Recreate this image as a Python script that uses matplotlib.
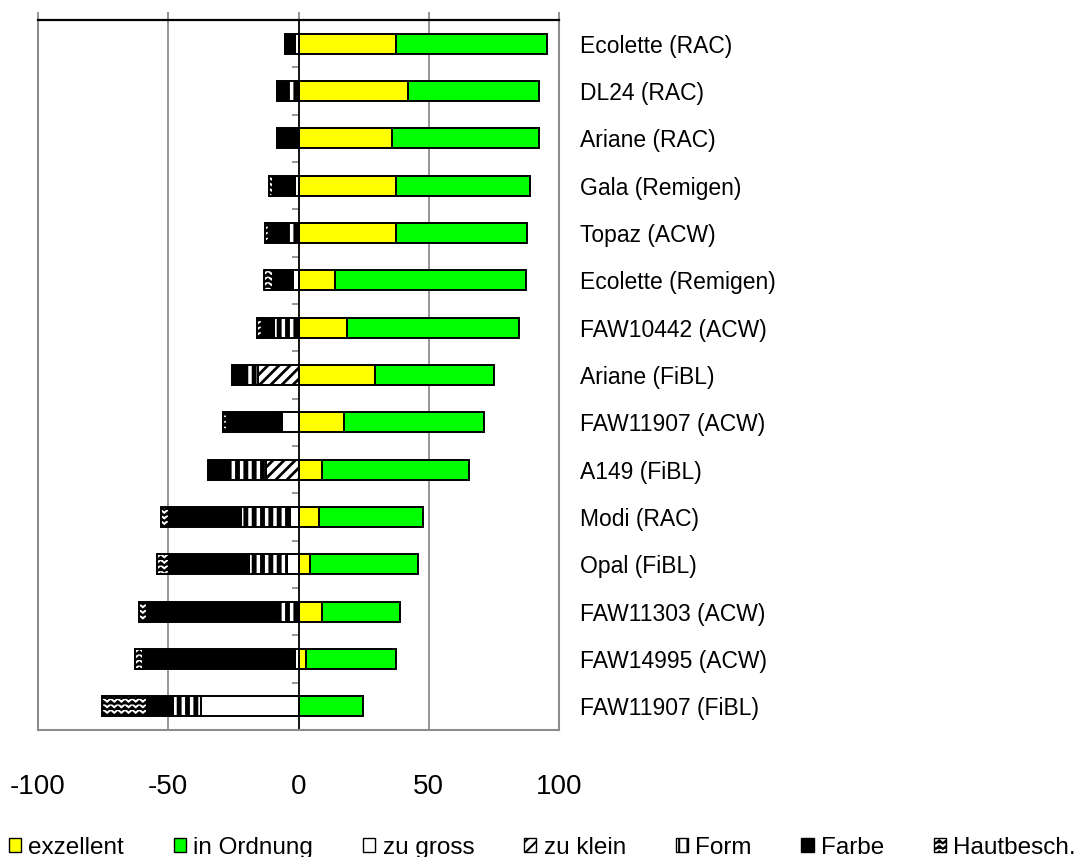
import matplotlib
matplotlib.use('Agg')
import matplotlib.pyplot as plt
import matplotlib.hatch as mhatch
from matplotlib.patches import Patch
from matplotlib.path import Path
import numpy as np

plt.rcParams['font.family'] = ['Liberation Sans', 'DejaVu Sans']
plt.rcParams['axes.unicode_minus'] = False
plt.rcParams['hatch.linewidth'] = 2.0

# Sorten, von oben nach unten
sorten = ['Ecolette (RAC)', 'DL24 (RAC)', 'Ariane (RAC)', 'Gala (Remigen)', 'Topaz (ACW)',
          'Ecolette (Remigen)', 'FAW10442 (ACW)', 'Ariane (FiBL)', 'FAW11907 (ACW)', 'A149 (FiBL)',
          'Modi (RAC)', 'Opal (FiBL)', 'FAW11303 (ACW)', 'FAW14995 (ACW)', 'FAW11907 (FiBL)']

# positive Anteile (%)
exzellent = [37.4, 42.2, 35.8, 37.4, 37.4, 14.1, 18.6, 29.5, 17.3, 9.2, 7.8, 4.5, 9.2, 2.9, 0]
in_ordnung = [58.0, 50.1, 56.5, 51.6, 50.2, 73.3, 65.9, 45.5, 54.1, 56.4, 39.9, 41.5, 29.8, 34.7, 24.9]

# negative Anteile (%), von 0 nach links gestapelt
zu_gross = [1.5, 0, 0, 1.5, 0, 2.3, 0, 0, 6.4, 0, 3.3, 4.6, 0, 1.3, 37.3]
zu_klein = [0, 0, 0, 0, 0, 0, 0, 15.6, 0, 12.6, 0, 0, 0, 0, 0]
form = [0, 4.5, 0, 0, 4.5, 0, 9.4, 4.7, 1.4, 13.7, 18.9, 14.4, 7.7, 0, 10.8]
farbe = [3.6, 3.7, 8.2, 8.2, 6.8, 7.4, 4.7, 5.1, 19.8, 8.4, 27.5, 30.7, 50.4, 58.4, 10.0]
hautbesch = [0, 0, 0, 1.6, 1.5, 3.4, 1.9, 0, 1.2, 0, 3.0, 4.5, 3.2, 3.1, 17.3]


# zigzag hatch for "Hautbesch." (takes over the '*' character)
class ZigZagHatch(mhatch.HatchPatternBase):
    def __init__(self, hatch, density):
        self.num_rows = hatch.count('*') * density
        self.teeth = 14
        self.num_vertices = self.num_rows * (2 * self.teeth + 1)

    def set_vertices_and_codes(self, vertices, codes):
        n = 2 * self.teeth + 1
        xs = np.linspace(0, 1, n)
        amp = 0.55 / self.num_rows
        k = 0
        for r in range(self.num_rows):
            y0 = (r + 0.2) / self.num_rows
            vertices[k:k + n, 0] = xs
            vertices[k:k + n, 1] = y0 + amp * (np.arange(n) % 2)
            codes[k] = Path.MOVETO
            codes[k + 1:k + n] = Path.LINETO
            k += n


mhatch._hatch_types = [t for t in mhatch._hatch_types if t is not mhatch.Stars] + [ZigZagHatch]

grey = '#8c8c8c'

fig = plt.figure(figsize=(10.85, 8.57), dpi=100)
ax = fig.add_axes([38 / 1085, 1 - 730 / 857, (559 - 38) / 1085, (730 - 20) / 857])

y = np.arange(len(sorten))
kw = dict(height=0.42, edgecolor='black', linewidth=1.4)

ax.barh(y, exzellent, color='#ffff00', **kw)
ax.barh(y, in_ordnung, left=exzellent, color='#00ff00', **kw)

neg = [
    (zu_gross, 'white', None, 1.0),
    (zu_klein, 'white', '///', 2.0),
    (form, 'white', '||', 3.5),
    (farbe, 'black', None, 1.0),
    (hautbesch, 'white', '***', 1.6),
]
left = np.zeros(len(sorten))
for vals, fc, hatch, hlw in neg:
    vals = np.array(vals)
    plt.rcParams['hatch.linewidth'] = hlw
    bars = ax.barh(y, -vals, left=left, color=fc, hatch=hatch, **kw)
    for b in bars:
        try:
            b.set_hatch_linewidth(hlw)
        except AttributeError:
            pass
    left = left - vals

ax.set_xlim(-100, 100)
ax.set_ylim(len(sorten) - 0.5, -0.5)
ax.set_xticks([-100, -50, 0, 50, 100])

ax.grid(axis='x', color=grey, linewidth=1.3)
ax.set_axisbelow(True)
ax.axvline(-100, color=grey, linewidth=1.5, clip_on=False)

ax.tick_params(axis='x', which='major', top=True, bottom=False, labeltop=False,
               labelbottom=True, direction='out', length=5.5, width=1.3,
               color=grey, labelsize=20, pad=26)

ax.spines['left'].set_position(('data', 0))
ax.spines['left'].set_color('black')
ax.spines['left'].set_linewidth(1.2)
ax.spines['top'].set_color('black')
ax.spines['top'].set_linewidth(1.6)
for s in ['bottom', 'right']:
    ax.spines[s].set_color(grey)
    ax.spines[s].set_linewidth(1.5)

ax.set_yticks(y)
ax.set_yticklabels(sorten)
ax.set_yticks(np.arange(-0.5, len(sorten)), minor=True)
ax.tick_params(axis='y', which='major', left=False, right=False, length=0,
               labelleft=False, labelright=True, labelsize=16.5, pad=15)
ax.tick_params(axis='y', which='minor', left=True, right=False, direction='out',
               length=5, width=1.3, color=grey)

# legend
plt.rcParams['hatch.linewidth'] = 1.5
labels = ['exzellent', 'in Ordnung', 'zu gross', 'zu klein', 'Form', 'Farbe', 'Hautbesch.']
handles = [Patch(facecolor='#ffff00', edgecolor='black'),
           Patch(facecolor='#00ff00', edgecolor='black'),
           Patch(facecolor='white', edgecolor='black'),
           Patch(facecolor='white', edgecolor='black', hatch='///'),
           Patch(facecolor='white', edgecolor='black', hatch='||'),
           Patch(facecolor='black', edgecolor='black'),
           Patch(facecolor='white', edgecolor='black', hatch='***')]
fig.legend(handles, labels, ncol=7, loc='lower left', bbox_to_anchor=(9 / 1085, -0.002),
           frameon=False, fontsize=17.5, handlelength=0.5, handleheight=0.5,
           handletextpad=0.3, columnspacing=2.05, borderpad=0, borderaxespad=0)

fig.savefig('out.png', dpi=100)
